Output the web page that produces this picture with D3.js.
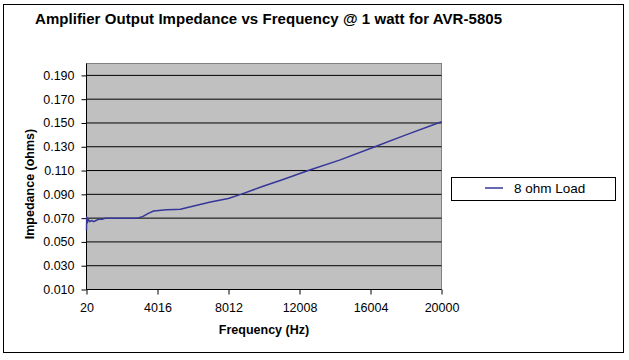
<!DOCTYPE html>
<html>
<head>
<meta charset="utf-8">
<script src="https://cdn.jsdelivr.net/npm/d3@7"></script>
<style>
  html, body { margin: 0; padding: 0; background: #fff; }
  svg { display: block; font-family: "Liberation Sans", Arial, sans-serif; }
</style>
</head>
<body>
<svg id="chart" width="629" height="360"></svg>
<script>
// ---- data ----
const titleText = "Amplifier Output Impedance vs Frequency @ 1 watt for AVR-5805";
const xTitle = "Frequency (Hz)";
const yTitle = "Impedance (ohms)";
const seriesName = "8 ohm Load";
const xTicks = [20, 4016, 8012, 12008, 16004, 20000];
const yTicks = [0.010, 0.030, 0.050, 0.070, 0.090, 0.110, 0.130, 0.150, 0.170, 0.190];
const frequency = [20, 30, 60, 120, 200, 300, 420, 550, 700, 900, 1100, 1500, 2000, 2500, 2900, 3200, 3500, 3800, 4100, 4500, 5000, 5300, 6000, 7000, 8000, 8700, 10000, 11000, 12500, 14300, 16250, 18000, 20000];
const impedance = [0.060, 0.071, 0.066, 0.069, 0.067, 0.068, 0.067, 0.068, 0.069, 0.069, 0.070, 0.070, 0.070, 0.070, 0.070, 0.0715, 0.074, 0.076, 0.0765, 0.077, 0.0773, 0.0775, 0.080, 0.0835, 0.0865, 0.090, 0.097, 0.102, 0.110, 0.119, 0.130, 0.140, 0.151];

const svg = d3.select("#chart");

// outer border
svg.append("rect").attr("x", 3.5).attr("y", 4.5).attr("width", 620).attr("height", 348)
  .attr("fill", "#fff").attr("stroke", "#000").attr("stroke-width", 1);

const x = d3.scaleLinear().domain([20, 20000]).range([86.5, 441.5]);
const y = d3.scaleLinear().domain([0.010, 0.200]).range([289.5, 63.5]);

// plot area
svg.append("rect").attr("x", x(20)).attr("y", y(0.200))
  .attr("width", x(20000) - x(20)).attr("height", y(0.010) - y(0.200))
  .attr("fill", "#c0c0c0").attr("stroke", "#808080").attr("stroke-width", 1);

// gridlines
svg.append("g").selectAll("line").data(yTicks.slice(1)).join("line")
  .attr("x1", x(20)).attr("x2", x(20000))
  .attr("y1", d => y(d)).attr("y2", d => y(d))
  .attr("stroke", "#000").attr("stroke-width", 1);

// axes
const yAxis = d3.axisLeft(y).tickValues(yTicks).tickFormat(d3.format(".3f")).tickSize(5).tickPadding(7);
const xAxis = d3.axisBottom(x).tickValues(xTicks).tickFormat(d => String(d)).tickSize(5).tickPadding(9);

const gy = svg.append("g").attr("transform", `translate(${x(20)},0)`).call(yAxis);
const gx = svg.append("g").attr("transform", `translate(0,${y(0.010)})`).call(xAxis);
[gy, gx].forEach(g => {
  g.select(".domain").attr("stroke", "#000");
  g.selectAll(".tick line").attr("stroke", "#000");
  g.selectAll("text").attr("fill", "#000").attr("font-size", 12.5)
    .attr("font-family", "Liberation Sans, Arial, sans-serif");
});
gy.select(".domain").attr("d", `M0,${y(0.200)}V${y(0.010)}`);
gx.select(".domain").attr("d", `M${x(20)},0H${x(20000)}`);

// line
const line = d3.line().x((d, i) => x(frequency[i])).y(d => y(d));
svg.append("path").datum(impedance).attr("d", line)
  .attr("fill", "none").attr("stroke", "#36369a").attr("stroke-width", 1.5)
  .attr("stroke-linejoin", "round");

// title
svg.append("text").attr("x", 35).attr("y", 24).attr("font-size", 15).attr("font-weight", "bold")
  .attr("textLength", 467).attr("lengthAdjust", "spacing")
  .attr("fill", "#000").text(titleText);

// axis titles
svg.append("text").attr("x", x(10010)).attr("y", 334).attr("text-anchor", "middle")
  .attr("font-size", 12.5).attr("font-weight", "bold").attr("fill", "#000").text(xTitle);
svg.append("text").attr("transform", "translate(34,184) rotate(-90)").attr("text-anchor", "middle")
  .attr("font-size", 12.5).attr("font-weight", "bold").attr("fill", "#000").text(yTitle);

// legend
const lg = svg.append("g");
lg.append("rect").attr("x", 451.5).attr("y", 177.5).attr("width", 164).attr("height", 23)
  .attr("fill", "#fff").attr("stroke", "#000").attr("stroke-width", 1);
lg.append("line").attr("x1", 485).attr("x2", 503).attr("y1", 188).attr("y2", 188)
  .attr("stroke", "#36369a").attr("stroke-width", 1.5);
lg.append("text").attr("x", 514).attr("y", 193).attr("font-size", 13.5).attr("fill", "#000").text(seriesName);
</script>
</body>
</html>
